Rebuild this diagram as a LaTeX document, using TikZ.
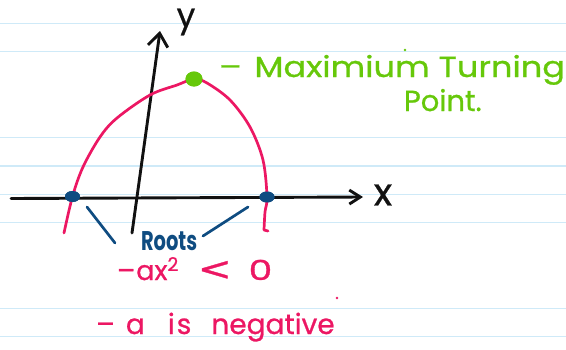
\documentclass[tikz,border=0pt]{standalone}
\usepackage{fontspec}
\setmainfont{Poppins}
\newfontfamily\hand{Poppins}[FakeBold=0.8]
\newfontfamily\symf{DejaVu Sans}[FakeBold=1]
\usetikzlibrary{arrows.meta,shapes.geometric}
\definecolor{pinkc}{HTML}{EC1763}
\definecolor{greenc}{HTML}{66C80A}
\definecolor{bluec}{HTML}{0F4C81}
\definecolor{linec}{HTML}{CFEAF8}
\definecolor{inkc}{HTML}{111111}
\tikzset{
  paperline/.style={draw=linec, line width=1.3pt},
  axisline/.style={draw=inkc, line width=2.9pt, line cap=round, line join=round},
  curveline/.style={draw=pinkc, line width=2.7pt, line cap=round, line join=round},
  rootdot/.style={ellipse, fill=bluec, inner sep=0pt, minimum width=15pt, minimum height=11pt},
  topdot/.style={ellipse, fill=greenc, inner sep=0pt, minimum width=17pt, minimum height=15pt},
  pointer/.style={draw=bluec, line width=2.7pt, line cap=round, line join=round},
  txt/.style={inner sep=0pt, outer sep=0pt}
}
\begin{document}
\begin{tikzpicture}[x=1pt,y=-1pt]
\useasboundingbox (0,0) rectangle (566,349);
% ruled paper
\foreach \yy in {23.3,51.7,137.7,166,194.3,222.7,308.3,336.7}
  \draw[paperline] (0,\yy) -- (566,\yy);
% axes
\coordinate (xS) at (11,198.5);
\coordinate (xE) at (363,197);
\coordinate (yS) at (132,233);
\coordinate (yE) at (160,31);
\draw[axisline, -{Straight Barb[length=11pt,width=14pt]}] (xS) -- (xE);
\draw[axisline, -{Straight Barb[length=13pt,width=20pt]}] (yS) -- (yE);
\node[txt, font=\hand\fontsize{38}{38}\selectfont, text=inkc] (xlab) at (383,195) {x};
\node[txt, font=\hand\fontsize{33}{33}\selectfont, text=inkc] (ylab) at (186,22) {y};
% dots
\node[rootdot] (rootL) at (72.5,196.5) {};
\node[rootdot] (rootR) at (267,197) {};
\node[topdot] (vertex) at (194,79) {};
% parabola
\coordinate (cL) at (64,233);
\coordinate (cR) at (264,230);
\coordinate (cH) at (268,231);
\draw[curveline] plot[smooth, tension=0.55] coordinates {(cL) (rootL.center) (83,167) (100,137) (117,118) (150,95) (177,85) (vertex.center) (207,83) (230,100) (250,127) (263,160) (rootR.center) (265,212) (cR)} -- (cH);
\node[rootdot] at (rootL) {};
\node[rootdot] at (rootR) {};
\node[topdot] at (vertex) {};
% roots label and pointers
\node[txt, font=\bfseries\fontsize{27}{27}\selectfont, text=bluec, xscale=0.72, anchor=base west] (roots) at (141,250) {Roots};
\coordinate (pL1) at (87,207);
\coordinate (pL2) at (115,243);
\coordinate (pR1) at (248,207);
\coordinate (pR2) at (203,236);
\draw[pointer] (pL1) -- (pL2);
\draw[pointer] (pR1) -- (pR2);
% turning point label
\node[txt, font=\hand\fontsize{29}{29}\selectfont, text=greenc, anchor=base west, xscale=1.16] (mtp) at (219,77) {–\hspace{11pt}Maximium Turning};
\node[txt, font=\hand\fontsize{29}{29}\selectfont, text=greenc, anchor=base west] (pt) at (404,111) {Point.};
\fill[greenc] (405,50) circle (1.3pt);
% pink notes
\node[txt, font=\hand\fontsize{27}{27}\selectfont, text=pinkc, anchor=base west] (ineq) at (117,280) {–\hspace{1pt}ax\textsuperscript{2}\hspace{19pt}\scalebox{1.3}[1.05]{\symf\fontsize{31}{31}\selectfont<}\hspace{17pt}\scalebox{1.4}[1.02]{0}};
\node[txt, font=\hand\fontsize{28}{28}\selectfont, text=pinkc, anchor=base west] (neg) at (96,334) {–\hspace{11pt}a\hspace{23pt}i\hspace{2pt}s\hspace{20pt}negative};
\fill[pinkc] (337,298) circle (1.4pt);
\end{tikzpicture}
\end{document}
